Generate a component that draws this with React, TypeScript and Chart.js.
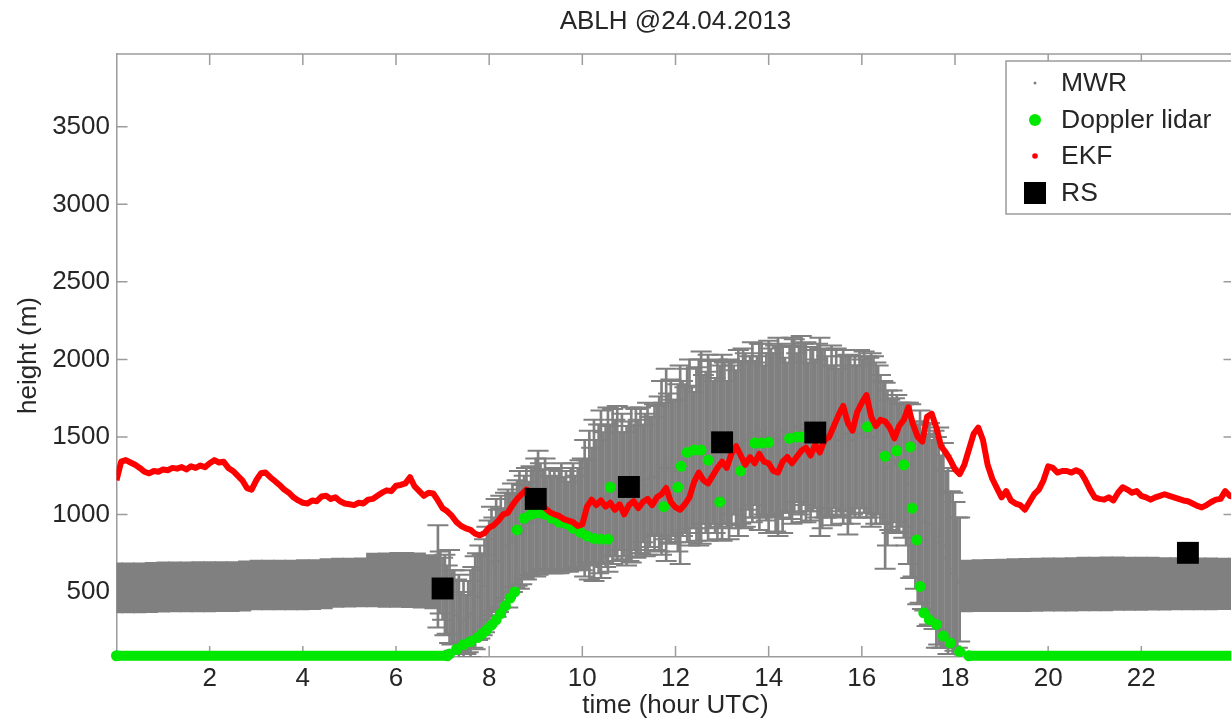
import React, { useEffect, useRef } from 'react';
import { Chart, registerables } from 'chart.js';

Chart.register(...registerables);

// ---------- text ----------
const TITLE = 'ABLH @24.04.2013';
const X_LABEL = 'time (hour UTC)';
const Y_LABEL = 'height (m)';
const LEGEND_LABELS = ['MWR', 'Doppler lidar', 'EKF', 'RS'];

// ---------- axes ----------
const X_MIN = 0;
const X_MAX = 24;
const Y_MIN = 80;
const Y_MAX = 3970;
const X_TICKS = [2, 4, 6, 8, 10, 12, 14, 16, 18, 20, 22];
const Y_TICKS = [500, 1000, 1500, 2000, 2500, 3000, 3500];

// ---------- EKF (every 0.1 h from 0 h) ----------
const EKF_T0 = 0;
const EKF_DT = 0.1;
const EKF_H = [
  1220, 1340, 1350, 1335, 1320, 1300, 1275, 1265, 1280, 1275,
  1290, 1285, 1300, 1295, 1305, 1290, 1310, 1300, 1315, 1305,
  1330, 1350, 1335, 1340, 1300, 1280, 1250, 1220, 1170, 1160,
  1220, 1265, 1270, 1240, 1215, 1190, 1160, 1140, 1110, 1090,
  1075, 1070, 1090, 1085, 1115, 1120, 1100, 1110, 1085, 1070,
  1065, 1060, 1075, 1070, 1095, 1100, 1120, 1140, 1155, 1150,
  1185, 1190, 1200, 1240, 1180, 1150, 1120, 1140, 1135, 1090,
  1040, 1020, 990, 950, 925, 910, 900, 875, 865, 880,
  915, 930, 960, 1000, 1010, 1060, 1100, 1130, 1160, 1140,
  1100, 1060, 1040, 1015, 1000, 990, 970, 960, 950, 925,
  935, 1050, 1095, 1060, 1090, 1050, 1075, 1030, 1065, 1000,
  1060, 1085, 1040, 1080, 1100, 1060, 1110, 1130, 1170, 1080,
  1045, 1030, 1065, 1110, 1210, 1270, 1220, 1200, 1250, 1300,
  1340, 1300, 1390, 1440, 1380, 1320, 1370, 1330, 1390, 1340,
  1330, 1280, 1270, 1340, 1370, 1330, 1370, 1410, 1430, 1380,
  1450, 1400, 1480, 1500, 1570, 1640, 1700, 1590, 1540, 1660,
  1720, 1770, 1630, 1570, 1610, 1600, 1560, 1490, 1570, 1610,
  1690, 1580, 1500, 1470, 1630, 1650, 1560, 1440, 1400, 1350,
  1290, 1260, 1320, 1420, 1520, 1560, 1480, 1320, 1230, 1170,
  1110, 1150, 1090, 1070, 1060, 1030, 1080, 1130, 1160, 1220,
  1310, 1300, 1270, 1280, 1280, 1270, 1285, 1270, 1220, 1160,
  1110, 1100, 1095, 1110, 1090, 1140, 1175, 1160, 1140, 1150,
  1120, 1110, 1095, 1110, 1120, 1130, 1120, 1110, 1100, 1090,
  1085, 1070, 1055, 1045, 1060, 1080, 1095, 1100, 1150, 1120,
  1110,
];

// ---------- Doppler lidar ----------
const DOPPLER_T = [
  0, 7.1, 7.15, 7.3, 7.45, 7.6, 7.75, 7.85, 7.95, 8.05, 8.15, 8.25, 8.35, 8.45, 8.55,
  8.6, 8.75, 8.9, 9.05, 9.2, 9.35, 9.5, 9.65, 9.8, 9.95, 10.1, 10.25, 10.4, 10.55,
  10.6, 11.75, 12.05, 12.12, 12.25, 12.4, 12.55, 12.7, 12.95,
  13.4, 13.7, 13.85, 14.0, 14.45, 14.6, 14.7,
  16.12, 16.5, 16.75, 16.9, 17.04, 17.08, 17.18, 17.25, 17.33, 17.45, 17.6, 17.75, 17.9, 18.1, 18.3,
  24,
];
const DOPPLER_H = [
  88, 88, 100, 130, 160, 180, 205, 230, 255, 285, 320, 360, 410, 460, 500,
  900, 975, 1000, 1010, 1000, 975, 950, 940, 910, 885, 860, 845, 840, 840,
  1175, 1050, 1175, 1310, 1400, 1415, 1415, 1350, 1080,
  1280, 1460, 1460, 1465, 1490, 1500, 1500,
  1565, 1375, 1410, 1320, 1435, 1040, 835, 535, 365, 320, 290, 215, 170, 115, 88,
  88,
];

// ---------- MWR: dense night-time band (low / high of the error bars) ----------
const MWR_EARLY_T = [0, 0.25, 0.5, 0.75, 1, 1.25, 1.5, 1.75, 2, 2.25, 2.5, 2.75, 3, 3.25, 3.5, 3.75, 4, 4.25, 4.5, 4.75, 5, 5.25, 5.5, 5.75, 6, 6.25, 6.5, 6.75];
const MWR_EARLY_HI = [688, 688, 688, 690, 694, 694, 694, 695, 695, 696, 696, 700, 706, 706, 706, 706, 708, 708, 715, 718, 718, 720, 750, 752, 755, 755, 752, 740];
const MWR_EARLY_LO = [365, 365, 365, 366, 370, 371, 371, 371, 371, 372, 372, 375, 384, 384, 384, 384, 384, 385, 390, 400, 402, 403, 403, 400, 400, 398, 395, 390];

const MWR_LATE_T = [18.25, 18.5, 18.75, 19, 19.25, 19.5, 19.75, 20, 20.25, 20.5, 20.75, 21, 21.25, 21.5, 21.75, 22, 22.25, 22.5, 22.75, 23, 23.25, 23.5, 23.75, 24];
const MWR_LATE_HI = [706, 708, 710, 712, 715, 716, 718, 720, 720, 722, 724, 724, 726, 726, 725, 724, 724, 722, 722, 720, 720, 720, 718, 718];
const MWR_LATE_LO = [371, 372, 372, 372, 373, 373, 374, 375, 375, 376, 377, 378, 378, 380, 380, 381, 382, 382, 383, 384, 384, 384, 385, 385];

// ---------- MWR: daytime values with error (every 0.05 h from 6.9 h) ----------
const MWR_DAY_T0 = 6.9;
const MWR_DAY_DT = 0.05;
const MWR_DAY_H = [
  600, 560,
  520, 480, 450, 470, 400, 380, 350, 330, 300, 320, 290, 340, 360, 400, 430, 470, 500, 480, 540, 600,
  640, 700, 680, 720, 700, 760, 740, 800, 780, 820, 850, 830, 880, 900, 870, 920, 940, 910, 960, 950,
  980, 1010, 990, 960, 1000, 950, 970, 930, 960, 940, 950, 980, 940, 960, 920, 970, 990, 950, 980, 1000,
  1000, 1040, 1020, 1060, 1050, 1090, 1080, 1100, 1130, 1110, 1120, 1160, 1150, 1180, 1170, 1200, 1150, 1180, 1130, 1120,
  1150, 1190, 1170, 1200, 1180, 1220, 1200, 1190, 1230, 1210, 1250, 1240, 1280, 1260, 1300, 1280, 1320, 1300, 1340, 1300,
  1280, 1300, 1320, 1360, 1350, 1380, 1400, 1370, 1350, 1390, 1400, 1430, 1420, 1400, 1430, 1450, 1400, 1380, 1420, 1440,
  1430, 1460, 1400, 1420, 1450, 1480, 1430, 1460, 1460, 1490, 1480, 1510, 1500, 1530, 1520, 1500, 1500, 1540, 1480, 1500,
  1500, 1530, 1520, 1490, 1500, 1540, 1480, 1510, 1500, 1530, 1540, 1570, 1560, 1540, 1550, 1580, 1530, 1500, 1520, 1540,
  1520, 1540, 1500, 1490, 1520, 1500, 1480, 1510, 1500, 1530, 1480, 1500, 1500, 1520, 1450, 1480, 1480, 1500, 1500, 1520,
  1520, 1530, 1500, 1510, 1480, 1500, 1460, 1480, 1420, 1400, 1250, 1300, 1320, 1340, 1350, 1330, 1300, 1320, 1280, 1260,
  1200, 1150, 1100, 1060, 1000, 1050, 950, 980, 900, 940, 880, 900, 820, 860, 760, 800, 720, 700, 650, 620,
  600, 560, 580,
];
const MWR_DAY_ERR = [
  330, 200,
  200, 260, 220, 300, 240, 260, 230, 280, 200, 250, 190, 230, 280, 260, 300, 280, 300, 260, 300, 320,
  320, 350, 300, 380, 330, 360, 300, 340, 380, 320, 350, 300, 340, 380, 320, 330, 360, 300, 350, 330,
  380, 400, 340, 330, 360, 300, 320, 310, 340, 300, 330, 350, 300, 320, 290, 330, 340, 300, 320, 350,
  360, 440, 330, 480, 380, 520, 400, 480, 540, 420, 460, 530, 420, 500, 440, 500, 380, 470, 400, 450,
  450, 500, 400, 480, 430, 470, 380, 460, 490, 420, 380, 470, 420, 500, 560, 440, 620, 480, 530, 440,
  460, 540, 640, 500, 470, 560, 600, 460, 440, 560, 600, 620, 480, 520, 600, 540, 460, 500, 580, 520,
  600, 520, 460, 580, 540, 480, 500, 600, 520, 580, 560, 480, 520, 580, 460, 520, 600, 560, 480, 540,
  620, 540, 520, 600, 640, 560, 600, 500, 480, 560, 600, 560, 480, 540, 600, 520, 580, 480, 560, 520,
  480, 560, 640, 580, 540, 520, 480, 580, 460, 540, 460, 520, 560, 500, 580, 540, 480, 520, 460, 540,
  480, 520, 520, 500, 560, 520, 520, 480, 480, 460, 600, 500, 420, 460, 400, 440, 420, 400, 430, 460,
  520, 560, 500, 540, 580, 620, 560, 600, 620, 650, 600, 640, 680, 700, 620, 660, 560, 600, 500, 520,
  480, 420, 400,
];

// ---------- radiosondes ----------
const RS_T = [7, 9, 11, 13, 15, 23];
const RS_H = [522, 1100, 1177, 1465, 1528, 752];

// ---------- styles ----------
const FONT = '"Liberation Sans", Arial, Helvetica, sans-serif';
const TEXT = '#262626';
const AXIS = '#9c9c9c';
const GREY = '#808080';
const GREEN = '#00e800';
const RED = '#ff0000';
const BLACK = '#000000';
const TICK_LEN = 11;

const decorPlugin = {
  id: 'matlabDecor',
  beforeDatasetsDraw(chart: any) {
    const { ctx, chartArea: a, scales } = chart;
    const xs = scales.x;
    const ys = scales.y;
    ctx.save();
    ctx.strokeStyle = AXIS;
    ctx.lineWidth = 1.5;
    ctx.beginPath();
    ctx.moveTo(a.left, a.top);
    ctx.lineTo(a.right, a.top);
    ctx.lineTo(a.right, a.bottom);
    X_TICKS.forEach((v) => {
      const px = xs.getPixelForValue(v);
      ctx.moveTo(px, a.bottom);
      ctx.lineTo(px, a.bottom - TICK_LEN);
      ctx.moveTo(px, a.top);
      ctx.lineTo(px, a.top + TICK_LEN);
    });
    Y_TICKS.forEach((v) => {
      const py = ys.getPixelForValue(v);
      ctx.moveTo(a.left, py);
      ctx.lineTo(a.left + TICK_LEN, py);
      ctx.moveTo(a.right, py);
      ctx.lineTo(a.right - TICK_LEN, py);
    });
    ctx.stroke();
    ctx.restore();
  },
  afterDraw(chart: any) {
    const { ctx, chartArea: a } = chart;
    const left = a.right - 228.5;
    const top = a.top + 7;
    const w = 240;
    const h = 153;
    ctx.save();
    ctx.fillStyle = '#ffffff';
    ctx.fillRect(left, top, w, h);
    ctx.strokeStyle = AXIS;
    ctx.lineWidth = 1.5;
    ctx.strokeRect(left, top, w, h);
    const mx = left + 29;
    const tx = left + 55;
    const rows = [22, 59, 95, 132];
    ctx.font = `26.5px ${FONT}`;
    ctx.textBaseline = 'middle';
    ctx.textAlign = 'left';
    LEGEND_LABELS.forEach((label, i) => {
      const cy = top + rows[i];
      if (i === 0) {
        ctx.fillStyle = GREY;
        ctx.beginPath();
        ctx.arc(mx, cy, 1.5, 0, Math.PI * 2);
        ctx.fill();
      } else if (i === 1) {
        ctx.fillStyle = GREEN;
        ctx.beginPath();
        ctx.arc(mx, cy, 6, 0, Math.PI * 2);
        ctx.fill();
      } else if (i === 2) {
        ctx.fillStyle = RED;
        ctx.beginPath();
        ctx.arc(mx, cy, 2.8, 0, Math.PI * 2);
        ctx.fill();
      } else {
        ctx.fillStyle = BLACK;
        ctx.fillRect(mx - 11, cy - 11, 22, 22);
      }
      ctx.fillStyle = TEXT;
      ctx.fillText(label, tx, cy + 1);
    });
    ctx.restore();
  },
};

export default function App() {
  const ref = useRef<HTMLCanvasElement>(null);

  useEffect(() => {
    const canvas = ref.current;
    if (!canvas) return;

    const ekfData = EKF_H.map((h, i) => ({ x: EKF_T0 + i * EKF_DT, y: h }));
    const dopplerData = DOPPLER_T.map((t, i) => ({ x: t, y: DOPPLER_H[i] }));
    const earlyBand = MWR_EARLY_T.map((t, i) => ({ x: t, y: [MWR_EARLY_LO[i], MWR_EARLY_HI[i]] }));
    const lateBand = MWR_LATE_T.map((t, i) => ({ x: t, y: [MWR_LATE_LO[i], MWR_LATE_HI[i]] }));
    const dayStems = MWR_DAY_H.map((h, i) => ({
      x: MWR_DAY_T0 + i * MWR_DAY_DT,
      y: [h - MWR_DAY_ERR[i], h + MWR_DAY_ERR[i]],
    }));
    const dayCaps: { x: number; y: number }[] = [];
    MWR_DAY_H.forEach((h, i) => {
      const t = MWR_DAY_T0 + i * MWR_DAY_DT;
      dayCaps.push({ x: t, y: h - MWR_DAY_ERR[i] });
      dayCaps.push({ x: t, y: h + MWR_DAY_ERR[i] });
    });
    const dayCenters = MWR_DAY_H.map((h, i) => ({ x: MWR_DAY_T0 + i * MWR_DAY_DT, y: h }));
    const rsData = RS_T.map((t, i) => ({ x: t, y: RS_H[i] }));

    const tickFont = { family: FONT, size: 26 };

    const chart = new Chart(canvas, {
      type: 'scatter',
      data: {
        datasets: [
          {
            type: 'scatter',
            label: 'RS',
            data: rsData,
            pointStyle: 'rect',
            pointRadius: 15.5,
            pointBackgroundColor: BLACK,
            pointBorderColor: BLACK,
            pointBorderWidth: 0,
            clip: false,
            order: 1,
          } as any,
          {
            type: 'line',
            label: 'EKF',
            data: ekfData,
            borderColor: RED,
            borderWidth: 6,
            borderJoinStyle: 'round',
            pointRadius: 0,
            tension: 0,
            order: 2,
          } as any,
          {
            type: 'line',
            label: 'Doppler lidar',
            data: dopplerData,
            showLine: true,
            borderWidth: 10,
            borderCapStyle: 'round',
            segment: {
              borderColor: (c: any) =>
                c.p0.parsed.y <= 95 && c.p1.parsed.y <= 95 ? GREEN : 'rgba(0,0,0,0)',
            },
            pointRadius: 5.5,
            pointBackgroundColor: GREEN,
            pointBorderWidth: 0,
            clip: false,
            order: 3,
          } as any,
          {
            type: 'scatter',
            label: 'MWR',
            data: dayCenters,
            pointRadius: 1.5,
            pointBackgroundColor: GREY,
            pointBorderWidth: 0,
            order: 4,
          } as any,
          {
            type: 'scatter',
            label: 'MWR caps',
            data: dayCaps,
            pointStyle: 'line',
            pointRadius: 10.5,
            pointBorderColor: GREY,
            pointBorderWidth: 2,
            order: 5,
          } as any,
          {
            type: 'bar',
            label: 'MWR stems',
            data: dayStems,
            backgroundColor: GREY,
            borderWidth: 0,
            barThickness: 2,
            grouped: false,
            clip: 0,
            order: 6,
          } as any,
          {
            type: 'bar',
            label: 'MWR night (early)',
            data: earlyBand,
            backgroundColor: GREY,
            borderWidth: 0,
            barThickness: 12.5,
            grouped: false,
            clip: 0,
            order: 7,
          } as any,
          {
            type: 'bar',
            label: 'MWR night (late)',
            data: lateBand,
            backgroundColor: GREY,
            borderWidth: 0,
            barThickness: 12.5,
            grouped: false,
            clip: 0,
            order: 8,
          } as any,
        ],
      },
      options: {
        responsive: false,
        animation: false,
        devicePixelRatio: 1,
        layout: { padding: { left: 0, right: 11.5, top: 0, bottom: 0 } },
        plugins: {
          legend: { display: false },
          tooltip: { enabled: false },
          title: {
            display: true,
            text: TITLE,
            fullSize: false,
            color: TEXT,
            font: { family: FONT, size: 26, weight: 'normal' },
            padding: { top: 6.6, bottom: 16.2 },
          },
        },
        scales: {
          x: {
            type: 'linear',
            min: X_MIN,
            max: X_MAX,
            offset: false,
            grid: { display: false, drawTicks: false, offset: false },
            border: { display: true, color: AXIS, width: 1.5 },
            afterBuildTicks: (s: any) => {
              s.ticks = X_TICKS.map((v) => ({ value: v }));
            },
            ticks: {
              font: tickFont,
              color: TEXT,
              padding: 6,
              maxRotation: 0,
              autoSkip: false,
              callback: (v: any) => String(v),
            },
            title: {
              display: true,
              text: X_LABEL,
              color: TEXT,
              font: { family: FONT, size: 26 },
              padding: { top: 0, bottom: -2 },
            },
            afterFit: (s: any) => {
              s.height = 62;
            },
          },
          y: {
            type: 'linear',
            min: Y_MIN,
            max: Y_MAX,
            stacked: false,
            grid: { display: false, drawTicks: false },
            border: { display: true, color: AXIS, width: 1.5 },
            afterBuildTicks: (s: any) => {
              s.ticks = Y_TICKS.map((v) => ({ value: v }));
            },
            ticks: {
              font: tickFont,
              color: TEXT,
              padding: 6.5,
              autoSkip: false,
              callback: (v: any) => String(v),
            },
            title: {
              display: true,
              text: Y_LABEL,
              color: TEXT,
              font: { family: FONT, size: 26 },
              padding: { top: 13, bottom: 0 },
            },
            afterFit: (s: any) => {
              s.width = 116.5;
            },
          },
        },
      } as any,
      plugins: [decorPlugin],
    });

    return () => chart.destroy();
  }, []);

  return (
    <div
      style={{
        position: 'fixed',
        left: 0,
        top: 0,
        width: 1231,
        height: 719,
        overflow: 'hidden',
        background: '#ffffff',
      }}
    >
      <canvas ref={ref} width={1250} height={719} style={{ display: 'block', width: 1250, height: 719 }} />
    </div>
  );
}
